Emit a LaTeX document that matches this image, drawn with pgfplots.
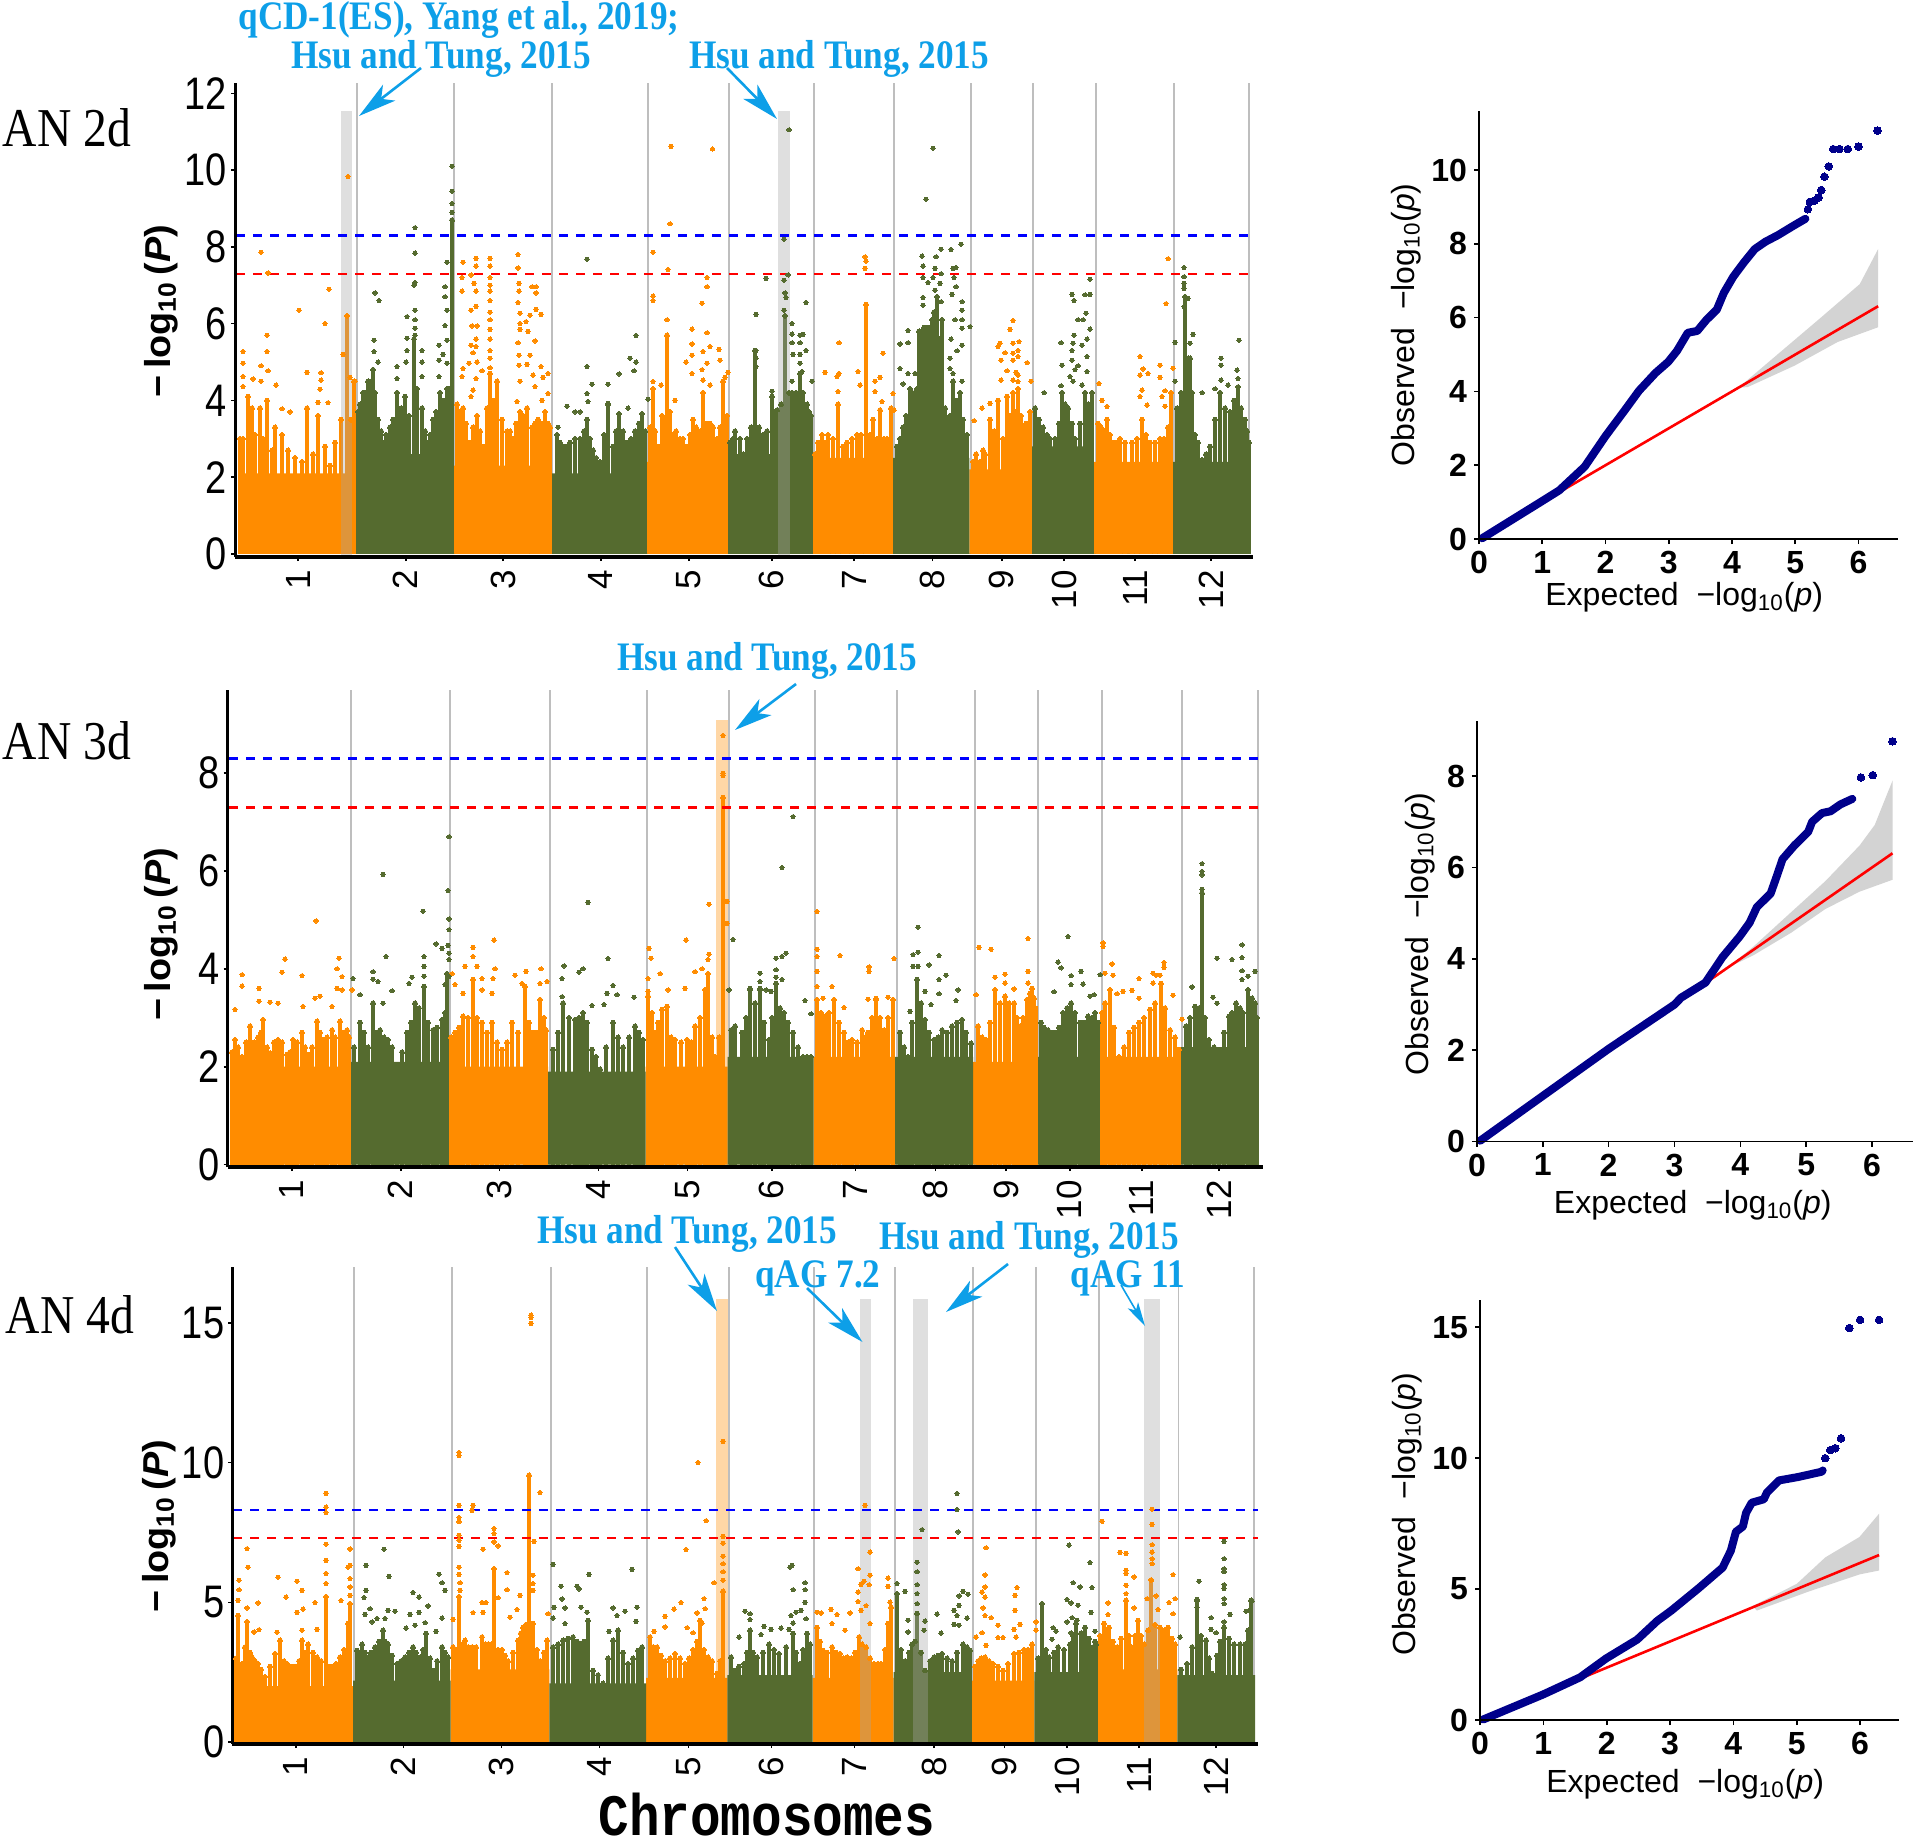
\documentclass[border=0pt]{standalone}
\usepackage{fontspec}
\usepackage{graphicx}
\usepackage{pgfplots}
\pgfplotsset{compat=1.18}
\usetikzlibrary{arrows.meta}
\setmainfont{Liberation Sans}
\newfontfamily\timesf{Liberation Serif}
\newfontfamily\monof{Liberation Mono}

\definecolor{mhorange}{HTML}{FF8C00}
\definecolor{mhgreen}{HTML}{556B2F}
\definecolor{linegray}{HTML}{BEBEBE}
\definecolor{noteblue}{HTML}{0D9FE8}
\definecolor{qqblue}{HTML}{00008B}
\definecolor{bandgray}{HTML}{D3D3D3}

\newcommand{\mhylab}{\scalebox{1.05}[1]{\bfseries\fontsize{18}{20}\selectfont −\,log\textsubscript{10}\,(\textit{P})}}
\newcommand{\qqylab}{Observed\ \ −log\textsubscript{10}(\textit{p})}
\newcommand{\qqxlab}{Expected\ \ −log\textsubscript{10}(\textit{p})}
\newcommand{\note}[1]{\scalebox{1}[1.15]{\timesf\bfseries\fontsize{17.6}{20}\selectfont\color{noteblue}#1}}
\newcommand{\panelname}[1]{\scalebox{1}[1.15]{\timesf\fontsize{23.8}{26}\selectfont #1}}

\pgfplotsset{
  mhaxis/.style={
    scale only axis, axis lines=left, clip=false, axis on top,
    x axis line style={line width=2pt,-},
    y axis line style={line width=1.5pt,-},
    tick style={black,line width=0.8pt},
    major tick length=2pt, tick align=outside,
    xticklabels={1,2,3,4,5,6,7,8,9,10,11,12},
    x tick label style={rotate=90,anchor=east,font=\fontsize{17.5}{18}\selectfont,xshift=-1pt},
    y tick label style={font=\fontsize{19}{21}\selectfont,xshift=1.5pt},
    /pgf/number format/assume math mode=true,
    yticklabel={\scalebox{1}[1.2]{\pgfmathprintnumber{\tick}}},
  },
  qqaxis/.style={
    scale only axis, axis lines=left, clip=false, axis on top,
    axis line style={line width=0.8pt,-},
    tick style={black,line width=0.8pt},
    major tick length=2.5pt, tick align=outside,
    xtick={0,1,2,3,4,5,6},
    tick label style={font=\bfseries\fontsize{16}{18}\selectfont},
    label style={font=\fontsize{16}{18}\selectfont},
    /pgf/number format/assume math mode=true,
  },
  glines/.style={ycomb,color=linegray,line width=0.9pt,no marks},
  ocomb/.style={ycomb,color=mhorange,line width=2.2pt,mark=*,mark size=1.2pt,mark options={fill=mhorange,line width=0pt}},
  gcomb/.style={ycomb,color=mhgreen,line width=2.2pt,mark=*,mark size=1.2pt,mark options={fill=mhgreen,line width=0pt}},
  odots/.style={only marks,color=mhorange,mark=*,mark size=1.05pt,mark options={fill=mhorange,line width=0pt}},
  gdots/.style={only marks,color=mhgreen,mark=*,mark size=1.05pt,mark options={fill=mhgreen,line width=0pt}},
  obase/.style={draw=none,fill=mhorange},
  gbase/.style={draw=none,fill=mhgreen},
  gband/.style={draw=none,fill=gray!70,fill opacity=0.36},
  oband/.style={draw=none,fill=mhorange,fill opacity=0.35},
  bluel/.style={blue,line width=1.2pt,dash pattern=on 4.5pt off 4pt},
  redl/.style={red,line width=1.2pt,dash pattern=on 4.5pt off 4pt},
  qqband/.style={draw=none,fill=bandgray},
  qqred/.style={red,line width=1.3pt},
  qqcurve/.style={qqblue,line width=4pt,line cap=round,line join=round},
  qqdots/.style={only marks,color=qqblue,mark=*,mark size=1.9pt,mark options={fill=qqblue,line width=0pt}},
}

\begin{document}
\begin{tikzpicture}
\path[use as bounding box] (0,0) rectangle (957pt,-920.5pt);

% AN 2d manhattan
\begin{axis}[mhaxis, at={(117.5pt,-278.5pt)}, anchor=south west,
  width=509pt, height=237pt,
  xmin=235, xmax=1253, ymin=-0.08, ymax=12.27,
  xtick={298,405.7,503,600.7,689,771.7,854,932.3,1001.7,1064,1135,1211},
  ytick={0,2,4,6,8,10,12},
  ylabel={\mhylab}, ylabel style={at={(axis description cs:-0.0727,0.519)},anchor=center}]
\addplot[glines] coordinates {(357.3,12.27)(454,12.27)(552.3,12.27)(648.3,12.27)(729.3,12.27)(814,12.27)(894,12.27)(970.7,12.27)(1033,12.27)(1095.7,12.27)(1174,12.27)(1249,12.27)};
% body of each chromosome
\addplot[obase] coordinates {(238.5,0)(238.5,2.1)(355.7,2.1)(355.7,0)(452.7,0)(452.7,2.3)(551,2.3)(551,0)(646.7,0)(646.7,2.4)(728,2.4)(728,0)(812.3,0)(812.3,2.5)(892.7,2.5)(892.7,0)(969.3,0)(969.3,2.2)(1031.3,2.2)(1031.3,0)(1093.7,0)(1093.7,2.4)(1172.7,2.4)(1172.7,0)};
\addplot[gbase] coordinates {(355.7,0)(355.7,2.6)(452.7,2.6)(452.7,0)(551,0)(551,2.1)(646.7,2.1)(646.7,0)(728,0)(728,2.6)(812.3,2.6)(812.3,0)(892.7,0)(892.7,2.5)(969.3,2.5)(969.3,0)(1031.3,0)(1031.3,2.8)(1093.7,2.8)(1093.7,0)(1172.7,0)(1172.7,2.4)(1250,2.4)(1250,0)};
% columns
\addplot[ocomb] coordinates {(240,3.0)(243,3.0)(248,4.1)(252,3.8)(255,3.1)(260,3.8)(263,3.0)(267,4.0)(272,2.7)(275,3.3)(282,3.1)(288,2.7)(295,2.5)(302,2.4)(307,3.8)(313,2.6)(318,3.6)(325,2.8)(330,2.3)(335,2.9)(341,3.5)(347,6.2)(351,3.5)(354,4.5)
 (457,3.9)(463,3.8)(470,2.9)(477,3.6)(483,2.8)(490,4.7)(497,4.5)(507,3.2)(513,3.0)(520,3.7)(527,3.8)(532,3.3)(538,3.5)(545,3.7)(550,3.3)
 (650,3.3)(653,4.3)(658,2.8)(662,3.6)(667,5.7)(673,3.1)(680,3.0)(687,2.8)(693,3.5)(698,3.0)(703,4.2)(710,3.4)(717,3.0)(723,4.5)(727,3.6)
 (815,2.6)(818,2.9)(822,3.1)(825,2.9)(828,3.1)(833,3.0)(838,3.9)(843,2.8)(847,2.9)(852,3.0)(857,3.1)(861,3.1)(866,6.5)(870,3.1)(873,3.5)(877,3.0)(880,3.75)(884,3.0)(887,3.0)(891,3.8)
 (973,2.4)(980,2.4)(985,2.6)(990,3.5)(998,4.0)(1003,3.0)(1007,4.1)(1013,4.2)(1018,4.3)(1023,3.3)(1030,3.7)
 (1098,3.4)(1107,3.5)(1113,2.9)(1120,3.0)(1132,2.9)(1142,3.5)(1150,2.9)(1160,3.0)(1168,3.3)(1171,4.2)};
\addplot[ocomb] coordinates {(460,3.7)(466,3.4)(473,3.3)(480,3.2)(487,3.8)(493,4.0)(502,3.5)(510,3.2)(516,3.4)(523,3.6)(535,3.4)(541,3.4)(548,3.4)
 (655,3.2)(665,3.5)(670,3.7)(676,3.2)(683,3.0)(690,3.1)(696,3.3)(700,3.2)(706,3.4)(713,3.3)(720,3.3)
 (976,2.6)(983,2.7)(994,3.2)(1010,3.6)(1015,3.7)(1021,3.6)(1026,3.4)
 (1101,3.3)(1104,3.2)(1110,3.1)(1116,2.9)(1125,2.9)(1137,3.0)(1146,3.1)(1155,2.9)(1164,3.0)};
\addplot[gcomb] coordinates {(358,3.7)(363,4.2)(368,4.5)(373,4.8)(378,3.5)(383,2.9)(390,3.3)(397,4.2)(405,4.1)(414,5.6)(422,3.8)(427,2.9)(433,3.5)(440,4.2)(447,4.3)(452,8.7)
 (557,3.1)(563,2.8)(570,2.9)(580,3.0)(587,3.5)(593,2.7)(600,2.4)(608,3.9)(613,2.8)(619,3.65)(627,2.9)(635,3.2)(642,3.65)
 (730,2.9)(735,3.2)(740,3.0)(743,2.6)(755,5.3)(763,3.1)(772,4.1)(777,3.75)(785,6.2)(792,4.2)(800,4.7)(807,3.9)(811,3.6)
 (897,2.8)(903,3.3)(910,4.3)(915,4.2)(919,5.8)(922,5.8)(924,5.9)(927,5.9)(929,5.9)(932,6.1)(934,6.3)(937,6.7)(942,6.1)(947,3.5)(953,4.5)(960,4.2)(967,3.1)
 (1035,3.8)(1043,3.3)(1050,3.0)(1062,4.2)(1068,3.8)(1075,3.0)(1085,4.2)(1090,3.7)(1092,4.2)
 (1177,3.8)(1185,6.7)(1188,5.1)(1190,5.1)(1195,3.1)(1202,2.45)(1210,2.8)(1220,4.2)(1230,3.7)(1238,4.35)(1245,3.5)(1249,2.9)};
\addplot[gcomb] coordinates {(360,3.9)(365,4.2)(371,4.5)(375,4.2)(381,3.2)(386,3.1)(393,3.5)(401,3.8)(409,3.6)(417,4.3)(425,3.2)(430,3.1)(436,3.7)(444,4.0)(449,4.3)
 (560,2.9)(566,2.8)(575,3.0)(584,3.2)(590,3.0)(596,2.5)(604,3.1)(616,3.2)(623,3.2)(631,3.0)(639,3.4)(645,3.2)
 (733,3.0)(747,3.0)(751,3.3)(759,3.3)(767,3.2)(775,3.7)(781,3.9)(789,4.2)(796,4.2)(803,4.2)(809,3.7)
 (900,3.0)(906,3.6)(912,4.2)(917,4.3)(939,5.6)(945,3.8)(950,3.6)(956,4.0)(963,3.5)
 (1039,3.5)(1047,3.1)(1055,3.0)(1059,3.4)(1065,3.9)(1072,3.4)(1080,3.4)(1088,3.9)
 (1181,4.2)(1192,4.2)(1198,2.9)(1206,2.6)(1215,3.5)(1225,3.8)(1234,4.0)(1241,3.8)(1247,3.2)};
% single points
\addplot[odots] coordinates {(348,9.83)(261,7.86)(268,7.32)(329,6.9)(299,6.35)(325,6.0)(267,5.7)(267,5.27)(243,5.27)(243,4.97)(243,4.62)(243,4.36)(261,4.9)(268,4.77)(307,4.73)(321,4.72)(321,4.53)(320,4.29)(253,4.56)(261,4.5)(276,4.4)(343,5.2)(350,4.6)(355,4.5)(282,3.78)(290,3.7)(318,3.95)(328,3.94)
 (463,7.6)(476,7.7)(476,7.5)(471,7.27)(462,7.2)(474,7.05)(462,6.85)(476,6.85)(471,6.35)(476,6.45)(472,5.94)(477,5.94)(476,5.6)(476,5.4)(471,5.44)(473,5.24)(477,5.0)(469,4.97)(463,4.83)(462,4.62)(482,4.77)(476,4.57)(473,4.27)(471,4.1)
 (490,7.7)(490,7.5)(490,7.2)(490,7.0)(490,6.85)(490,6.6)(490,6.3)(490,6.1)(490,5.85)(490,5.6)(490,5.3)(490,5.1)(490,4.85)
 (518,7.8)(518,7.45)(519,7.05)(519,6.85)(518,6.55)(520,6.27)(520,6.0)(520,5.85)(518,5.5)(519,5.18)(519,4.92)
 (532,6.96)(536,6.96)(536,6.8)(530,6.22)(536,6.37)(541,6.24)(526,6.05)(528,5.8)(535,5.55)(530,5.18)(527,4.94)(541,4.88)(533,4.66)(548,4.7)(543,4.6)(520,4.5)(535,4.36)(548,4.18)(542,4.0)(517,3.97)
 (671,10.62)(712.5,10.55)(670,8.6)(653,7.86)(668,7.41)(653,6.72)(653,6.6)(667,6.1)(707,7.2)(707,6.96)(702,6.53)(692,5.86)(692,5.47)(692,5.18)(686,5.0)(707,5.76)(710,5.4)(703,5.27)(719,5.33)(720,5.05)(707,4.97)(702,4.8)(728,4.73)(725,4.6)(653,4.49)(661,4.4)(692,4.7)(675,4.0)(703,4.53)(710,4.4)
 (865,7.74)(866,7.63)(865,7.44)(839,5.5)(883,5.23)(825,4.73)(839,4.7)(837,4.62)(858,4.75)(875,4.5)(880,4.6)(838,4.23)(860,4.4)(875,4.23)(893,4.18)(882,3.97)(894,3.75)
 (1013,6.08)(1010,5.85)(1000,5.49)(998,5.4)(1013,5.49)(1019,5.53)(1005,5.24)(1018,5.3)(1013,5.23)(1018,5.14)(1001,5.05)(1013,5.05)(1027,4.98)(1007,4.77)(1016,4.73)(1018,4.66)(1001,4.53)(1013,4.53)(1031,4.5)(1018,4.49)(982,3.8)(990,3.92)(974,3.47)
 (1168,7.69)(1166,6.52)(1140,5.14)(1143,4.82)(1160,4.92)(1173,4.84)(1140,4.66)(1148,4.7)(1160,4.6)(1099,4.44)(1142,4.27)(1165,4.25)(1140,4.1)(1162,4.1)(1102,4.0)(1147,3.88)(1165,3.85)(1107,3.84)};
\addplot[gdots] coordinates {(415,8.5)(415,7.84)(415,7.07)(414,7.0)(415,6.35)(415,6.1)(415,5.88)(415,5.7)(407,6.18)(407,5.62)(407,5.3)(406,5.0)(397,4.88)(397,4.57)(375,6.8)(379,6.6)(374,5.57)(374,5.27)(378,5.0)(373,4.8)(422,5.3)(422,5.0)(422,4.62)(447,7.6)(445,6.96)(445,6.7)(447,6.35)(445,5.95)(447,5.57)(439,5.44)(439,5.05)(447,4.97)(439,4.62)(443,5.2)(452,10.1)(452,9.45)(452,9.13)(452,8.9)
 (587,7.68)(587,4.88)(636,5.69)(630,5.1)(636,5.0)(634,4.77)(619,4.69)(608,4.42)(592,4.42)(587,4.18)(588,3.97)(648,4.03)(628,3.8)(567,3.85)(580,3.7)(575,3.7)(558,3.3)(608,3.92)
 (756,6.24)(756,5.3)(756,5.1)(756,4.88)(766,7.18)(789,11.05)(784,8.2)(784,7.13)(788,7.27)(785,6.8)(786,6.68)(784,6.35)(806,6.55)(792,6.0)(792,5.73)(792,5.5)(800,5.7)(803,5.72)(800,5.5)(793,5.2)(800,5.2)(806,5.3)(800,4.97)(802,4.75)(812,4.5)(792,4.5)(772,4.24)
 (933,10.57)(926,9.24)(941,7.94)(951,7.93)(961,8.07)(922,7.76)(936,7.74)(923,7.5)(935,7.44)(923,7.2)(941,7.3)(933,7.2)(940,7.05)(928,7.07)(953,7.44)(956,7.46)(954,7.2)(956,6.96)(952,6.76)(923,6.68)(923,6.48)(935,6.87)(941,6.57)(962,6.57)(962,6.35)(955,6.1)(962,6.1)(970,5.92)(962,5.88)(908,5.82)(900,5.47)(908,5.5)(951,5.6)(962,5.44)(957,5.29)(950,5.1)(950,4.83)(900,4.83)(908,4.7)(915,4.7)(903,4.43)(953,4.7)(962,4.5)
 (1090,7.16)(1072,6.76)(1074,6.6)(1085,6.75)(1090,6.76)(1086,6.27)(1078,6.1)(1083,6.1)(1090,5.86)(1061,5.5)(1074,5.7)(1087,5.6)(1073,5.49)(1082,5.44)(1072,5.3)(1072,5.05)(1087,5.14)(1062,4.92)(1078,4.9)(1075,4.8)(1087,4.75)(1070,4.62)(1082,4.4)(1061,4.38)(1073,4.5)(1044,4.2)
 (1184,7.46)(1184,7.22)(1184,7.05)(1184,6.92)(1188,6.66)(1184,6.44)(1175,5.51)(1193,5.72)(1190,5.49)(1239,5.57)(1221,5.1)(1221,4.92)(1237,4.79)(1238,4.57)(1202,4.2)(1221,4.53)(1215,4.3)(1228,4.4)(1175,4.5)};
\addplot[gband] coordinates {(340.7,-0.08)(340.7,11.55)(352,11.55)(352,-0.08)};
\addplot[gband] coordinates {(778,-0.08)(778,11.55)(790,11.55)(790,-0.08)};
\addplot[bluel] coordinates {(236,8.3)(1253,8.3)};
\addplot[redl] coordinates {(236,7.3)(1253,7.3)};
\end{axis}

% AN 2d QQ
\begin{axis}[qqaxis, at={(739.5pt,-269.5pt)}, anchor=south west,
  width=209.35pt, height=214.15pt,
  xmin=0, xmax=6.62, ymin=0, ymax=11.61, ytick={0,2,4,6,8,10},
  xlabel={\qqxlab}, xlabel style={at={(axis description cs:0.49,-0.135)},anchor=center},
  ylabel={\qqylab}, ylabel style={at={(axis description cs:-0.174,0.5)},anchor=center}]
\addplot[qqband] coordinates {(4.1,4.1)(4.82,5.15)(5.39,5.98)(6.02,6.91)(6.31,7.86)(6.31,5.74)(5.67,5.34)(4.99,4.7)(4.25,4.12)};
\addplot[qqred] coordinates {(0,0)(6.31,6.31)};
\addplot[qqcurve] coordinates {(0.05,0.02)(1,1.03)(1.27,1.32)(1.67,1.96)(2,2.79)(2.3,3.48)(2.53,4.02)(2.79,4.5)(2.99,4.8)(3.13,5.1)(3.3,5.59)(3.45,5.64)(3.59,5.93)(3.76,6.22)(3.87,6.67)(4.02,7.11)(4.19,7.5)(4.36,7.86)(4.53,8.06)(4.73,8.24)(4.96,8.48)(5.16,8.68)};
\addplot[qqdots] coordinates {(5.2,8.94)(5.23,9.14)(5.3,9.17)(5.37,9.26)(5.41,9.46)(5.46,9.82)(5.53,10.1)(5.6,10.57)(5.7,10.57)(5.83,10.57)(6.0,10.64)(6.3,11.07)};
\end{axis}

% AN 3d manhattan
\begin{axis}[mhaxis, at={(113.85pt,-583.5pt)}, anchor=south west,
  width=517.5pt, height=238.5pt,
  xmin=227.7, xmax=1262.7, ymin=-0.05, ymax=9.7,
  xtick={291.7,400.7,499.3,598.3,687.3,771.7,855.6,935.5,1006,1069.7,1141.7,1219},
  ytick={0,2,4,6,8},
  ylabel={\mhylab}, ylabel style={at={(axis description cs:-0.0644,0.488)},anchor=center}]
\addplot[glines] coordinates {(351.3,9.7)(450.3,9.7)(549.7,9.7)(647,9.7)(729,9.7)(815,9.7)(896.7,9.7)(974.9,9.7)(1038,9.7)(1102,9.7)(1182,9.7)(1257.6,9.7)};
\addplot[oband] coordinates {(716.3,-0.05)(716.3,9.09)(728.3,9.09)(728.3,-0.05)};
\addplot[obase] coordinates {(231,0)(231,2.0)(350,2.0)(350,0)(448.3,0)(448.3,2.0)(548,2.0)(548,0)(645.7,0)(645.7,2.0)(727.7,2.0)(727.7,0)(813.5,0)(813.5,2.2)(895,2.2)(895,0)(973,0)(973,2.1)(1036.7,2.1)(1036.7,0)(1100.3,0)(1100.3,2.2)(1180.5,2.2)(1180.5,0)};
\addplot[gbase] coordinates {(350,0)(350,2.1)(448.3,2.1)(448.3,0)(548,0)(548,1.9)(645.7,1.9)(645.7,0)(727.7,0)(727.7,2.2)(813.5,2.2)(813.5,0)(895,0)(895,2.2)(973,2.2)(973,0)(1036.7,0)(1036.7,2.2)(1100.3,2.2)(1100.3,0)(1180.5,0)(1180.5,2.4)(1258.6,2.4)(1258.6,0)};
\addplot[ocomb] coordinates {(235,2.55)(242,2.2)(250,2.83)(258,2.6)(263,2.96)(270,2.28)(278,2.55)(287,2.25)(293,2.55)(302,2.7)(308,2.25)(317,2.93)(323,2.55)(332,2.75)(340,2.93)(347,2.75)
 (455,2.7)(463,3.03)(473,3.78)(482,2.9)(492,2.9)(502,2.35)(512,2.9)(525,3.64)(533,2.7)(540,3.37)(546,2.75)
 (648,3.44)(655,2.7)(662,3.17)(667,3.23)(675,2.55)(687,2.55)(695,2.83)(705,3.57)(708,3.9)(715,2.2)(723,7.5)
 (817,3.37)(825,3.03)(834,3.37)(844,2.7)(852,2.55)(862,2.75)(868,2.7)(876,3.37)(884,2.75)(893,3.37)
 (978,2.83)(986,2.55)(995,3.57)(1005,3.44)(1014,3.3)(1020,2.83)(1027,3.37)(1030,3.5)(1032,3.6)(1034,3.4)(1035.5,3.2)
 (1102,3.1)(1110,3.57)(1119,2.2)(1129,2.7)(1139,2.9)(1150,3.17)(1161,3.7)(1170,2.75)(1179,2.35)};
\addplot[ocomb] coordinates {(232,2.3)(238,2.4)(246,2.5)(254,2.5)(261,2.7)(267,2.4)(274,2.5)(282,2.5)(290,2.3)(297,2.5)(305,2.4)(312,2.4)(320,2.7)(327,2.6)(335,2.6)(343,2.7)(349,2.6)
 (451,2.6)(459,2.8)(468,3.0)(477,3.0)(487,2.7)(497,2.5)(507,2.5)(518,2.7)(529,2.9)(537,2.7)(544,3.0)
 (652,3.1)(658,2.9)(671,2.6)(681,2.5)(691,2.5)(700,3.0)(712,2.6)(719,2.6)
 (821,3.1)(829,3.1)(839,2.9)(848,2.5)(857,2.5)(865,2.6)(872,3.0)(880,3.0)(888,3.0)
 (982,2.6)(990,2.9)(1000,3.3)(1009,3.3)(1017,3.0)(1023,3.0)
 (1105,3.3)(1114,2.8)(1124,2.4)(1134,2.8)(1144,3.0)(1155,3.3)(1165,3.2)(1175,2.6)};
\addplot[gcomb] coordinates {(360,2.9)(368,2.4)(373,3.3)(380,2.75)(388,2.55)(397,2.0)(407,2.7)(415,3.3)(424,3.64)(433,2.75)(442,2.96)(447,3.9)
 (553,2.35)(563,3.3)(575,2.96)(583,3.1)(592,2.35)(600,1.95)(613,2.9)(623,2.4)(635,2.83)(643,2.55)
 (731,2.75)(735,2.83)(742,2.7)(750,3.57)(760,3.57)(769,2.55)(776,3.7)(784,3.1)(793,2.7)(803,2.2)(811,2.2)
 (900,2.7)(908,2.2)(917,3.78)(925,2.96)(934,2.55)(942,2.75)(952,2.83)(962,2.96)(971,2.48)
 (1041,2.9)(1048,2.75)(1056,2.7)(1063,3.1)(1071,3.3)(1080,2.9)(1088,3.03)(1095,3.1)
 (1186,2.83)(1195,3.23)(1199,3.2)(1202,5.55)(1209,2.55)(1219,2.2)(1229,3.03)(1236,3.3)(1243,3.1)(1248,3.57)(1255,3.3)};
\addplot[gcomb] coordinates {(354,2.4)(364,2.7)(376,2.7)(384,2.6)(392,2.4)(402,2.3)(411,2.9)(419,3.2)(428,2.9)(437,2.8)(445,3.1)
 (558,2.7)(569,3.0)(579,3.0)(587,2.9)(596,2.2)(606,2.4)(618,2.6)(629,2.6)(639,2.7)
 (746,3.0)(755,3.3)(764,2.9)(772,3.0)(780,3.2)(788,2.9)(798,2.4)(807,2.2)
 (904,2.4)(912,2.9)(921,3.3)(929,2.7)(938,2.6)(947,2.7)(957,2.9)(966,2.7)
 (1044,2.8)(1052,2.7)(1059,2.8)(1067,3.2)(1075,3.1)(1084,2.9)(1092,3.0)(1098,2.9)
 (1190,3.0)(1205,3.0)(1214,2.4)(1224,2.7)(1232,3.1)(1240,3.2)(1252,3.4)(1257,3.0)};
\addplot[odots] coordinates {(235,3.17)(242,3.88)(242,3.65)(259,3.6)(259,3.34)(270,3.32)(282,3.93)(285,4.2)(302,3.86)(316,4.98)(278,3.3)(303,3.23)(315,3.4)(320,3.44)(337,4.0)(339,4.22)(342,3.84)(337,3.6)(342,3.57)(332,3.23)(352,3.57)
 (452,3.9)(465,4.05)(473,4.44)(473,4.25)(477,4.05)(482,3.8)(494,4.59)(495,4.0)(493,3.8)(515,3.87)(526,3.95)(522,3.7)(541,4.0)(547,3.74)(540,3.7)(492,3.5)(482,3.57)(463,3.5)(455,3.68)
 (723,8.77)(723,8.0)(723,7.95)(649,4.42)(651,4.22)(660,3.9)(648,3.8)(648,3.54)(668,3.57)(686,4.59)(709,5.32)(709,4.3)(702,4.0)(695,3.94)(685,3.6)(708,4.19)(727,5.38)(727,4.93)
 (817,5.17)(817,4.4)(817,4.25)(817,3.95)(817,3.64)(840,4.27)(869,4.04)(869,3.95)(894,4.21)(832,3.64)(823,3.4)(868,3.38)(876,3.4)(888,3.42)(844,3.21)
 (979,4.44)(991,4.4)(1028,4.62)(1028,3.95)(1005,3.89)(995,3.83)(976,3.47)(1014,3.59)(1028,3.71)(1005,3.71)
 (1103,4.53)(1103,4.46)(1112,4.1)(1105,3.91)(1113,3.87)(1139,3.8)(1153,3.91)(1164,4.13)(1164,4.03)(1156,3.87)(1153,3.71)(1160,3.87)(1132,3.56)(1123,3.54)(1117,3.49)(1173,3.46)(1139,3.4)(1182,2.97)};
\addplot[gdots] coordinates {(449,6.7)(383,5.93)(386,4.25)(423,5.18)(448,5.6)(449,5.02)(449,4.8)(448,4.48)(449,4.32)(449,4.19)(436,4.51)(442,4.42)(424,4.25)(424,4.05)(424,3.85)(373,3.94)(373,3.79)(378,3.74)(353,3.8)(360,3.47)(412,3.83)(409,3.7)(392,3.55)(383,3.3)(449,3.84)(445,3.68)
 (588,5.36)(608,4.21)(564,4.06)(583,4.0)(579,3.93)(562,3.8)(613,3.66)(607,3.5)(617,3.47)(634,3.42)(592,3.25)(604,3.27)(562,3.43)
 (733,4.6)(729,3.57)(793,7.11)(782,6.07)(776,4.22)(782,4.25)(786,4.32)(776,3.98)(776,3.83)(782,3.78)(776,3.68)(760,3.91)(760,3.74)(760,3.6)(750,3.6)(766,3.57)(771,3.54)(805,3.35)(811,3.08)
 (918,4.85)(913,4.29)(918,4.34)(939,4.27)(929,4.08)(913,4.05)(918,4.05)(946,3.87)(939,3.78)(958,3.57)(939,3.49)(925,3.54)(956,3.35)(931,3.27)(910,3.13)
 (1068,4.66)(1058,4.14)(1061,4.02)(1081,3.95)(1071,3.86)(1083,3.69)(1054,3.53)(1100,3.88)(1071,3.68)(1090,3.44)(1094,3.47)
 (1202,6.15)(1202,5.99)(1202,5.92)(1202,5.63)(1242,4.49)(1217,4.22)(1232,4.19)(1242,4.23)(1192,3.63)(1242,3.96)(1255,3.95)(1248,3.85)(1242,3.78)(1213,3.42)(1217,3.3)};
\addplot[bluel] coordinates {(229,8.3)(1262.7,8.3)};
\addplot[redl] coordinates {(229,7.3)(1262.7,7.3)};
\end{axis}

% AN 3d QQ
\begin{axis}[qqaxis, at={(738.45pt,-570.8pt)}, anchor=south west,
  width=218pt, height=210.2pt,
  xmin=0, xmax=6.62, ymin=0, ymax=9.2, ytick={0,2,4,6,8},
  xlabel={\qqxlab}, xlabel style={at={(axis description cs:0.495,-0.152)},anchor=center},
  ylabel={\qqylab}, ylabel style={at={(axis description cs:-0.131,0.494)},anchor=center}]
\addplot[qqband] coordinates {(3.8,3.8)(4.2,4.27)(4.77,5.02)(5.29,5.7)(5.81,6.48)(6.04,6.93)(6.31,7.9)(6.31,5.73)(5.81,5.47)(5.29,5.09)(4.77,4.57)(4.2,4.08)};
\addplot[qqred] coordinates {(0,0)(6.31,6.31)};
\addplot[qqcurve] coordinates {(0.05,0.02)(1,1)(2,2.03)(3,3.0)(3.1,3.15)(3.47,3.48)(3.73,4.04)(3.99,4.49)(4.14,4.79)(4.25,5.13)(4.46,5.43)(4.56,5.84)(4.64,6.18)(4.82,6.48)(5.03,6.78)(5.09,7.0)(5.24,7.19)(5.37,7.23)(5.52,7.38)(5.7,7.5)};
\addplot[qqdots] coordinates {(5.83,7.97)(6.01,8.02)(6.31,8.76)};
\end{axis}

% AN 4d manhattan
\begin{axis}[mhaxis, at={(116.15pt,-872pt)}, anchor=south west,
  width=513pt, height=238.5pt,
  xmin=232.3, xmax=1258.3, ymin=-0.07, ymax=17,
  xtick={295.7,403.3,501.3,599.3,688.3,771.4,854.6,934,1004.5,1067,1139,1215.8},
  ytick={0,5,10,15},
  xlabel={\monof\bfseries\scalebox{1}[1.15]{\fontsize{25.5}{26}\selectfont Chromosomes}},
  xlabel style={at={(axis description cs:0.521,-0.147)},anchor=center,inner sep=0pt},
  ylabel={\mhylab}, ylabel style={at={(axis description cs:-0.0714,0.457)},anchor=center}]
\addplot[glines] coordinates {(354.3,17)(452,17)(551,17)(647.3,17)(728.7,17)(814,17)(895,17)(972.9,17)(1035.7,17)(1099,17)(1178.4,17)(1253.9,17)};
\addplot[oband] coordinates {(716.3,-0.07)(716.3,15.86)(728.3,15.86)(728.3,-0.07)};
\addplot[obase] coordinates {(235,0)(235,2.0)(353,2.0)(353,0)(450.7,0)(450.7,2.6)(549.3,2.6)(549.3,0)(646,0)(646,2.3)(727.3,2.3)(727.3,0)(812.5,0)(812.5,2.3)(893.7,2.3)(893.7,0)(971.5,0)(971.5,2.2)(1034.4,2.2)(1034.4,0)(1097.6,0)(1097.6,2.6)(1177.4,2.6)(1177.4,0)};
\addplot[gbase] coordinates {(353,0)(353,2.2)(450.7,2.2)(450.7,0)(549.3,0)(549.3,2.1)(646,2.1)(646,0)(727.3,0)(727.3,2.4)(812.5,2.4)(812.5,0)(893.7,0)(893.7,2.5)(971.5,2.5)(971.5,0)(1034.4,0)(1034.4,2.5)(1097.6,2.5)(1097.6,0)(1177.4,0)(1177.4,2.4)(1255.2,2.4)(1255.2,0)};
\addplot[ocomb] coordinates {(238,4.53)(242,2.8)(247,4.3)(252,3.04)(258,2.8)(265,2.33)(275,3.16)(280,3.64)(287,2.8)(295,2.7)(302,3.64)(308,3.5)(317,3.04)(326,5.2)(332,2.7)(340,3.04)(348,4.24)(350,4.95)
 (453,3.4)(459,5.2)(465,3.64)(472,3.4)(482,3.76)(488,3.5)(494,6.2)(502,3.3)(508,2.9)(518,3.64)(523,4.1)(526,4.2)(529,9.55)(533,4.24)(540,2.9)(547,3.64)
 (650,3.76)(657,3.4)(665,2.9)(675,3.16)(685,2.8)(693,3.3)(700,4.35)(708,3.04)(717,2.45)(723,5.4)
 (817,4.1)(823,3.28)(832,3.4)(840,3.16)(847,3.04)(859,3.76)(866,3.4)(874,2.8)(881,2.8)(888,4.24)(891,4.83)
 (978,2.9)(985,3.04)(993,2.8)(1003,2.56)(1014,3.16)(1024,3.3)(1032,3.5)
 (1104,4.24)(1109,4.1)(1117,3.4)(1126,5.07)(1131,3.4)(1138,4.35)(1144,3.5)(1151,5.8)(1160,4.1)(1168,4.1)(1175,3.5)};
\addplot[ocomb] coordinates {(236,3.0)(245,3.4)(250,3.2)(255,2.9)(261,2.6)(270,2.7)(284,2.9)(291,2.7)(299,2.9)(305,3.2)(313,3.2)(321,2.9)(329,2.7)(336,2.8)(344,3.3)
 (456,3.3)(462,3.5)(468,3.4)(476,3.4)(485,3.5)(491,3.5)(498,3.3)(505,3.1)(513,3.2)(521,3.9)(531,4.2)(537,3.3)(544,3.2)
 (653,3.4)(661,3.1)(670,3.0)(680,3.0)(689,3.0)(697,3.6)(704,3.3)(712,2.9)(720,2.9)
 (820,3.6)(827,3.2)(836,3.2)(843,3.0)(851,3.0)(855,3.2)(862,3.5)(870,3.0)(878,2.8)(885,3.3)
 (975,2.7)(981,3.0)(989,2.9)(998,2.7)(1008,2.8)(1019,3.2)(1028,3.3)
 (1100,3.8)(1107,4.0)(1113,3.6)(1121,3.7)(1129,3.8)(1135,3.8)(1141,3.8)(1148,4.0)(1155,4.2)(1164,4.0)(1172,3.7)};
\addplot[gcomb] coordinates {(357,3.28)(362,3.5)(368,3.04)(375,3.4)(383,4.0)(388,3.5)(397,2.8)(405,3.04)(413,3.4)(420,3.04)(426,3.88)(433,2.56)(442,3.4)(448,3.04)
 (553,3.4)(563,3.64)(573,3.76)(580,3.5)(588,4.35)(593,2.56)(603,2.1)(613,3.64)(618,4.0)(628,2.8)(638,3.28)
 (731,3.04)(735,2.56)(744,2.8)(750,4.0)(757,3.04)(769,3.5)(779,3.16)(793,3.88)(800,2.8)(807,3.88)
 (897,5.3)(905,2.9)(912,3.5)(917,4.6)(925,2.56)(934,3.04)(942,3.16)(952,2.9)(963,3.5)(970,3.28)
 (1042,4.95)(1049,3.04)(1058,3.4)(1070,3.5)(1076,4.24)(1085,4.1)(1093,3.4)(1096,3.5)
 (1187,2.8)(1197,5.07)(1206,3.64)(1212,2.45)(1217,3.1)(1224,4.1)(1234,3.5)(1245,3.5)(1251,5.07)};
\addplot[gcomb] coordinates {(360,3.2)(365,3.2)(371,3.2)(379,3.6)(385,3.6)(392,3.1)(401,2.9)(409,3.2)(416,3.2)(423,3.3)(430,3.0)(437,2.9)(445,3.2)
 (558,3.5)(568,3.7)(577,3.6)(584,3.6)(598,2.4)(608,3.0)(623,3.2)(633,3.0)(642,3.4)
 (739,2.7)(747,3.2)(753,3.2)(763,3.2)(774,3.3)(786,3.4)(796,3.2)(803,3.3)(810,3.5)
 (901,3.3)(909,3.2)(915,3.6)(921,3.2)(930,2.9)(938,3.1)(947,3.0)(957,3.2)(967,3.4)
 (1038,3.0)(1046,3.3)(1054,3.2)(1064,3.3)(1073,3.8)(1081,3.9)(1089,3.7)(1095,3.6)
 (1181,2.6)(1192,3.4)(1201,3.8)(1209,3.0)(1220,3.6)(1229,3.7)(1240,3.5)(1248,4.0)};
\addplot[odots] coordinates {(247,6.92)(248,6.26)(239,5.79)(239,5.45)(238,5.07)(247,4.8)(258,4.98)(278,5.9)(286,5.19)(297,5.76)(302,5.43)(297,4.64)(303,4.76)(315,4.99)(326,8.9)(326,8.41)(326,8.21)(326,7.08)(326,6.5)(326,6.03)(326,5.67)(350,6.91)(350,6.32)(348,6.26)(350,5.85)(350,5.55)(350,5.25)(341,5.06)(317,4.03)(302,4.0)(277,3.93)(259,4.02)(254,3.94)
 (459,10.36)(459,10.25)(459,8.47)(473,8.47)(472,8.29)(459,8.03)(459,7.88)(459,7.4)(459,7.22)(459,7.0)(459,6.26)(459,6.0)(460,5.7)(460,5.43)(494,7.64)(494,7.46)(494,7.16)(498,7.02)(483,6.9)(531,15.28)(531,15.2)(531,14.98)(540,8.93)(534,7.18)(507,6.06)(507,5.45)(498,5.16)(482,4.99)(486,4.99)(483,4.64)(473,4.63)(453,4.39)(520,5.25)(517,4.74)(548,4.59)(510,4.47)(533,5.97)(533,5.67)(533,5.43)
 (723,10.76)(698,10.0)(706,7.92)(686,6.89)(723,7.36)(723,7.12)(723,6.65)(723,6.38)(723,6.09)(723,5.79)(714,5.7)(704,5.13)(705,4.77)(681,4.99)(674,4.76)(665,4.5)(697,4.62)(687,4.09)(665,4.12)(654,3.96)(693,3.91)(702,4.26)
 (865,8.47)(870,6.8)(858,6.2)(870,5.97)(864,5.76)(861,5.64)(869,5.63)(858,5.37)(858,5.03)(866,4.88)(831,4.75)(817,4.65)(821,4.62)(837,4.56)(850,4.62)(888,5.87)(888,5.57)(890,5.01)(861,4.71)(832,4.24)(845,4.0)(870,4.24)
 (986,6.95)(985,5.98)(985,5.55)(982,5.37)(985,5.19)(983,4.8)(985,4.53)(991,4.45)(1017,5.53)(1015,5.25)(1015,4.71)(1020,4.21)(998,4.18)(1014,4.03)(1036,4.3)(1036,4.0)(982,3.91)(998,3.74)(1016,3.76)(1003,3.74)(976,3.76)(986,3.46)
 (1102,7.9)(1120,6.79)(1126,6.75)(1152,8.33)(1152,7.79)(1152,7.06)(1152,6.8)(1152,6.56)(1152,6.38)(1126,6.15)(1126,6.03)(1134,5.91)(1173,5.99)(1126,5.61)(1126,5.31)(1108,4.98)(1175,5.13)(1169,4.99)(1156,5.23)(1147,5.13)(1134,4.8)(1158,4.74)(1173,4.59)(1108,4.56)};
\addplot[gdots] coordinates {(384,6.9)(366,6.32)(389,5.93)(366,5.43)(364,5.17)(413,5.35)(419,5.19)(439,6.01)(442,5.7)(445,5.43)(428,4.87)(370,4.77)(388,4.71)(395,4.68)(365,4.57)(410,4.57)(419,4.64)(442,4.44)(377,4.42)(385,4.42)(372,4.3)(406,4.08)(415,4.18)(425,4.27)(436,3.96)
 (553,6.36)(589,6.0)(632,6.18)(561,5.58)(577,5.58)(579,5.48)(562,5.12)(554,4.82)(565,4.8)(581,4.83)(613,4.8)(637,4.83)(625,4.68)(617,4.53)(553,4.44)(587,4.65)(636,4.32)(565,4.24)(609,3.96)
 (790,6.26)(792,6.32)(793,5.45)(805,5.7)(805,5.45)(805,5.0)(745,4.68)(750,4.59)(750,4.38)(796,4.65)(801,4.71)(791,4.53)(793,4.26)(806,4.41)(764,4.14)(781,4.08)(771,4.03)(789,4.03)(739,3.76)(761,3.85)
 (957,8.89)(957,8.32)(958,7.52)(922,7.6)(917,6.44)(917,6.09)(917,5.63)(917,5.31)(917,4.95)(897,5.67)(905,5.39)(959,5.23)(963,5.39)(968,5.29)(959,4.89)(954,4.71)(957,4.53)(937,4.58)(967,4.44)(908,4.36)(925,4.33)(954,4.21)(959,4.18)(908,3.94)(924,4.0)(941,3.9)
 (1069,7.05)(1090,6.42)(1073,5.7)(1080,5.55)(1092,5.53)(1067,5.1)(1071,4.98)(1078,4.9)(1091,4.64)(1072,4.45)(1067,4.3)(1077,4.36)(1053,4.09)(1056,3.97)(1095,3.97)(1071,3.91)(1052,3.68)
 (1224,7.18)(1224,6.56)(1224,6.2)(1224,6.09)(1224,5.63)(1224,5.49)(1224,5.13)(1224,4.95)(1199,5.76)(1197,5.11)(1197,4.83)(1252,5.04)(1246,4.68)(1230,4.57)(1211,4.45)(1250,4.71)(1211,4.03)(1224,4.3)(1216,3.91)(1180,3.76)};
\addplot[gband] coordinates {(859.7,-0.07)(859.7,15.86)(871.3,15.86)(871.3,-0.07)};
\addplot[gband] coordinates {(912.7,-0.07)(912.7,15.86)(928.3,15.86)(928.3,-0.07)};
\addplot[gband] coordinates {(1144,-0.07)(1144,15.86)(1159.7,15.86)(1159.7,-0.07)};
\addplot[bluel] coordinates {(233,8.3)(1258.3,8.3)};
\addplot[redl] coordinates {(233,7.3)(1258.3,7.3)};
\end{axis}

% AN 4d QQ
\begin{axis}[qqaxis, at={(740pt,-860pt)}, anchor=south west,
  width=209.35pt, height=210pt,
  xmin=0, xmax=6.61, ymin=0, ymax=16.04, ytick={0,5,10,15},
  xlabel={\qqxlab}, xlabel style={at={(axis description cs:0.49,-0.153)},anchor=center},
  ylabel={\qqylab}, ylabel style={at={(axis description cs:-0.174,0.49)},anchor=center}]
\addplot[qqband] coordinates {(4.3,4.35)(5,5.2)(5.45,6.21)(5.99,6.99)(6.3,7.88)(6.3,5.71)(5.99,5.56)(5.18,4.9)(4.37,4.18)};
\addplot[qqred] coordinates {(0,0)(6.3,6.3)};
\addplot[qqcurve] coordinates {(0.05,0.02)(1,0.98)(1.58,1.63)(1.99,2.35)(2.48,3.07)(2.8,3.79)(3.02,4.18)(3.45,5.03)(3.83,5.82)(3.96,6.47)(4.04,7.19)(4.15,7.39)(4.2,7.91)(4.29,8.3)(4.48,8.43)(4.53,8.69)(4.72,9.15)(5.02,9.28)(5.39,9.48)(5.41,9.53)};
\addplot[qqdots] coordinates {(5.45,10.0)(5.53,10.31)(5.61,10.38)(5.7,10.76)(5.83,14.97)(6.0,15.28)(6.3,15.28)};
\end{axis}

% panel names and annotations, positions in reference pixels
\begin{scope}[x=0.5pt,y=-0.5pt]
\node at (67,128) {\panelname{AN 2d}};
\node at (67,741) {\panelname{AN 3d}};
\node at (70,1315) {\panelname{AN 4d}};
\node at (459,20) {\note{qCD-1(ES), Yang et al., 2019;}};
\node at (441,59) {\note{Hsu and Tung, 2015}};
\node at (839,59) {\note{Hsu and Tung, 2015}};
\node at (767,661) {\note{Hsu and Tung, 2015}};
\node at (687,1234) {\note{Hsu and Tung, 2015}};
\node at (1029,1240) {\note{Hsu and Tung, 2015}};
\node at (818,1278) {\note{qAG 7.2}};
\node at (1128,1278) {\note{qAG 11}};
\begin{scope}[noteblue,line width=1.3pt,-{Stealth[length=19pt,width=10pt,inset=5pt]}]
\draw (421,68) -- (359,116);
\draw (727,68) -- (777,119);
\draw (796,684) -- (735,730);
\draw (675,1247) -- (717,1311);
\draw (807,1288) -- (862.5,1342);
\draw (1008,1264) -- (946,1312);
\end{scope}
\draw[noteblue,line width=0.8pt,-{Stealth[length=12pt,width=6pt,inset=3pt]}] (1121,1285) -- (1145,1326);
\end{scope}
\end{tikzpicture}
\end{document}
